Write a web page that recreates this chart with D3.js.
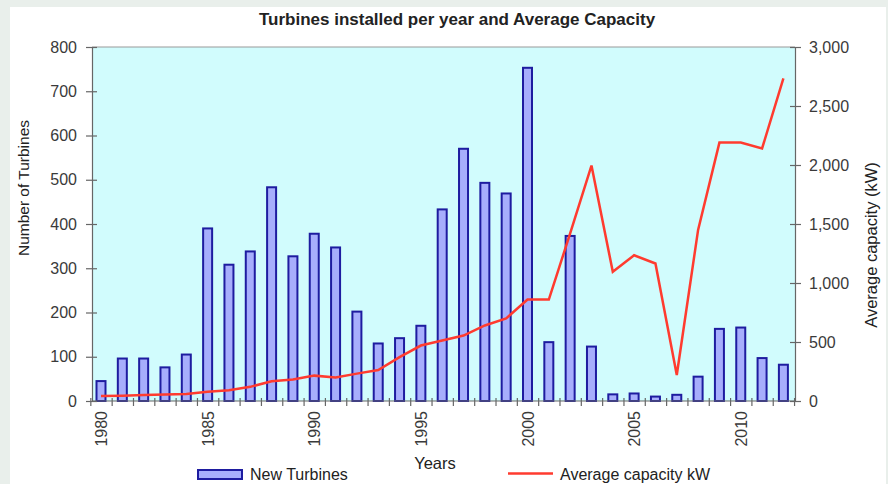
<!DOCTYPE html>
<html><head><meta charset="utf-8">
<script src="https://cdn.jsdelivr.net/npm/d3@7"></script>
<style>
html,body{margin:0;padding:0;background:#e9efeb;}
svg{display:block;}
text{font-family:"Liberation Sans",Arial,Helvetica,sans-serif;}
</style></head>
<body>
<svg id="chart" width="888" height="484"></svg>
<script>
const years = d3.range(1980, 2013);
const newTurbines = [45,96,96,76,105,390,308,338,483,327,378,347,202,130,142,170,433,570,493,469,753,133,373,123,15,17,10,14,55,163,166,97,82];
const avgCapacity = [42,45,50,55,60,78,92,120,168,182,215,200,232,262,372,470,512,555,640,700,860,860,1420,1995,1095,1235,1165,220,1450,2190,2190,2140,2735];
const leftTicks = [0,100,200,300,400,500,600,700,800];
const rightTicks = [0,500,1000,1500,2000,2500,3000];
const labelYears = [1980,1985,1990,1995,2000,2005,2010];

const svg = d3.select("#chart");
// white panel
svg.append("rect").attr("x",10).attr("y",7).attr("width",876).attr("height",477).attr("fill","#fff");

const L = 92, R = 795, T = 47, B = 401;
const x = d3.scaleLinear().domain([1980, 2012]).range([101, 783.4]);
const yL = d3.scaleLinear().domain([0, 800]).range([B, T]);
const yR = d3.scaleLinear().domain([0, 3000]).range([B, T]);

// plot background
svg.append("rect").attr("x",L).attr("y",T).attr("width",R-L).attr("height",B-T).attr("fill","#d1fcfd");
svg.append("line").attr("x1",L).attr("x2",R).attr("y1",T).attr("y2",T).attr("stroke","#999").attr("stroke-width",1);

// bars
const bw = 9;
svg.append("g").selectAll("rect").data(years).join("rect")
  .attr("x", (d)=>x(d)-bw/2)
  .attr("y", (d,i)=>yL(newTurbines[i]))
  .attr("width", bw)
  .attr("height", (d,i)=>B - yL(newTurbines[i]))
  .attr("fill","#a7aefc").attr("stroke","#1e1ca0").attr("stroke-width",2);

// line
const line = d3.line().x((d,i)=>x(years[i])).y(d=>yR(d));
svg.append("path").datum(avgCapacity).attr("d", line)
  .attr("fill","none").attr("stroke","#ff3b2f").attr("stroke-width",2.5).attr("stroke-linejoin","miter");

const axisColor = "#666";
const labelColor = "#3a3a3a";
const fs = "16px";

// left axis
const gL = svg.append("g").attr("transform",`translate(${L},0)`)
  .call(d3.axisLeft(yL).tickValues(leftTicks).tickSize(6).tickPadding(9).tickSizeOuter(0));
gL.selectAll(".tick line").attr("x1",5);
// right axis
const gR = svg.append("g").attr("transform",`translate(${R},0)`)
  .call(d3.axisRight(yR).tickValues(rightTicks).tickFormat(d3.format(",")).tickSize(6).tickPadding(8).tickSizeOuter(0));
gR.selectAll(".tick line").attr("x1",-5);
// bottom axis: boundary ticks
const tickYears = d3.range(1979.5, 2013, 1);
const gB = svg.append("g").attr("transform",`translate(0,${B})`)
  .call(d3.axisBottom(x).tickValues(tickYears).tickSize(5).tickFormat("").tickSizeOuter(0));
gB.selectAll(".tick line").attr("y1",-3);
gB.select(".domain").attr("d",`M${L},0H${R}`);
// year labels
svg.append("g").selectAll("text").data(labelYears).join("text")
  .attr("transform", d=>`translate(${x(d)+6},${411}) rotate(-90)`)
  .attr("text-anchor","end").attr("font-size",fs).attr("fill",labelColor).text(d=>d);

[gL,gR,gB].forEach(g=>{
  g.select(".domain").attr("stroke",axisColor).attr("stroke-width",1.2);
  g.selectAll(".tick line").attr("stroke",axisColor).attr("stroke-width",1.2);
  g.selectAll(".tick text").attr("font-size",fs).attr("fill",labelColor).attr("font-family","Liberation Sans, Arial, sans-serif");
});

// title
svg.append("text").attr("x",457).attr("y",25).attr("text-anchor","middle")
  .attr("font-size","17px").attr("font-weight","bold").attr("fill","#222")
  .text("Turbines installed per year and Average Capacity");
// axis titles
svg.append("text").attr("transform","translate(29,188) rotate(-90)").attr("text-anchor","middle")
  .attr("font-size","15.5px").attr("fill","#222").text("Number of Turbines");
svg.append("text").attr("transform","translate(877,245) rotate(-90)").attr("text-anchor","middle")
  .attr("font-size","16.5px").attr("fill","#222").text("Average capacity (kW)");
svg.append("text").attr("x",435).attr("y",469).attr("text-anchor","middle")
  .attr("font-size","16.5px").attr("fill","#222").text("Years");

// legend
svg.append("rect").attr("x",198).attr("y",470).attr("width",44).attr("height",9)
  .attr("fill","#a7aefc").attr("stroke","#1e1ca0").attr("stroke-width",2);
svg.append("text").attr("x",250).attr("y",480).attr("font-size","16px").attr("fill","#222").text("New Turbines");
svg.append("line").attr("x1",508).attr("x2",553).attr("y1",473.5).attr("y2",473.5)
  .attr("stroke","#ff3b2f").attr("stroke-width",2.5);
svg.append("text").attr("x",560).attr("y",480).attr("font-size","16px").attr("fill","#222").text("Average capacity kW");
</script>
</body></html>
